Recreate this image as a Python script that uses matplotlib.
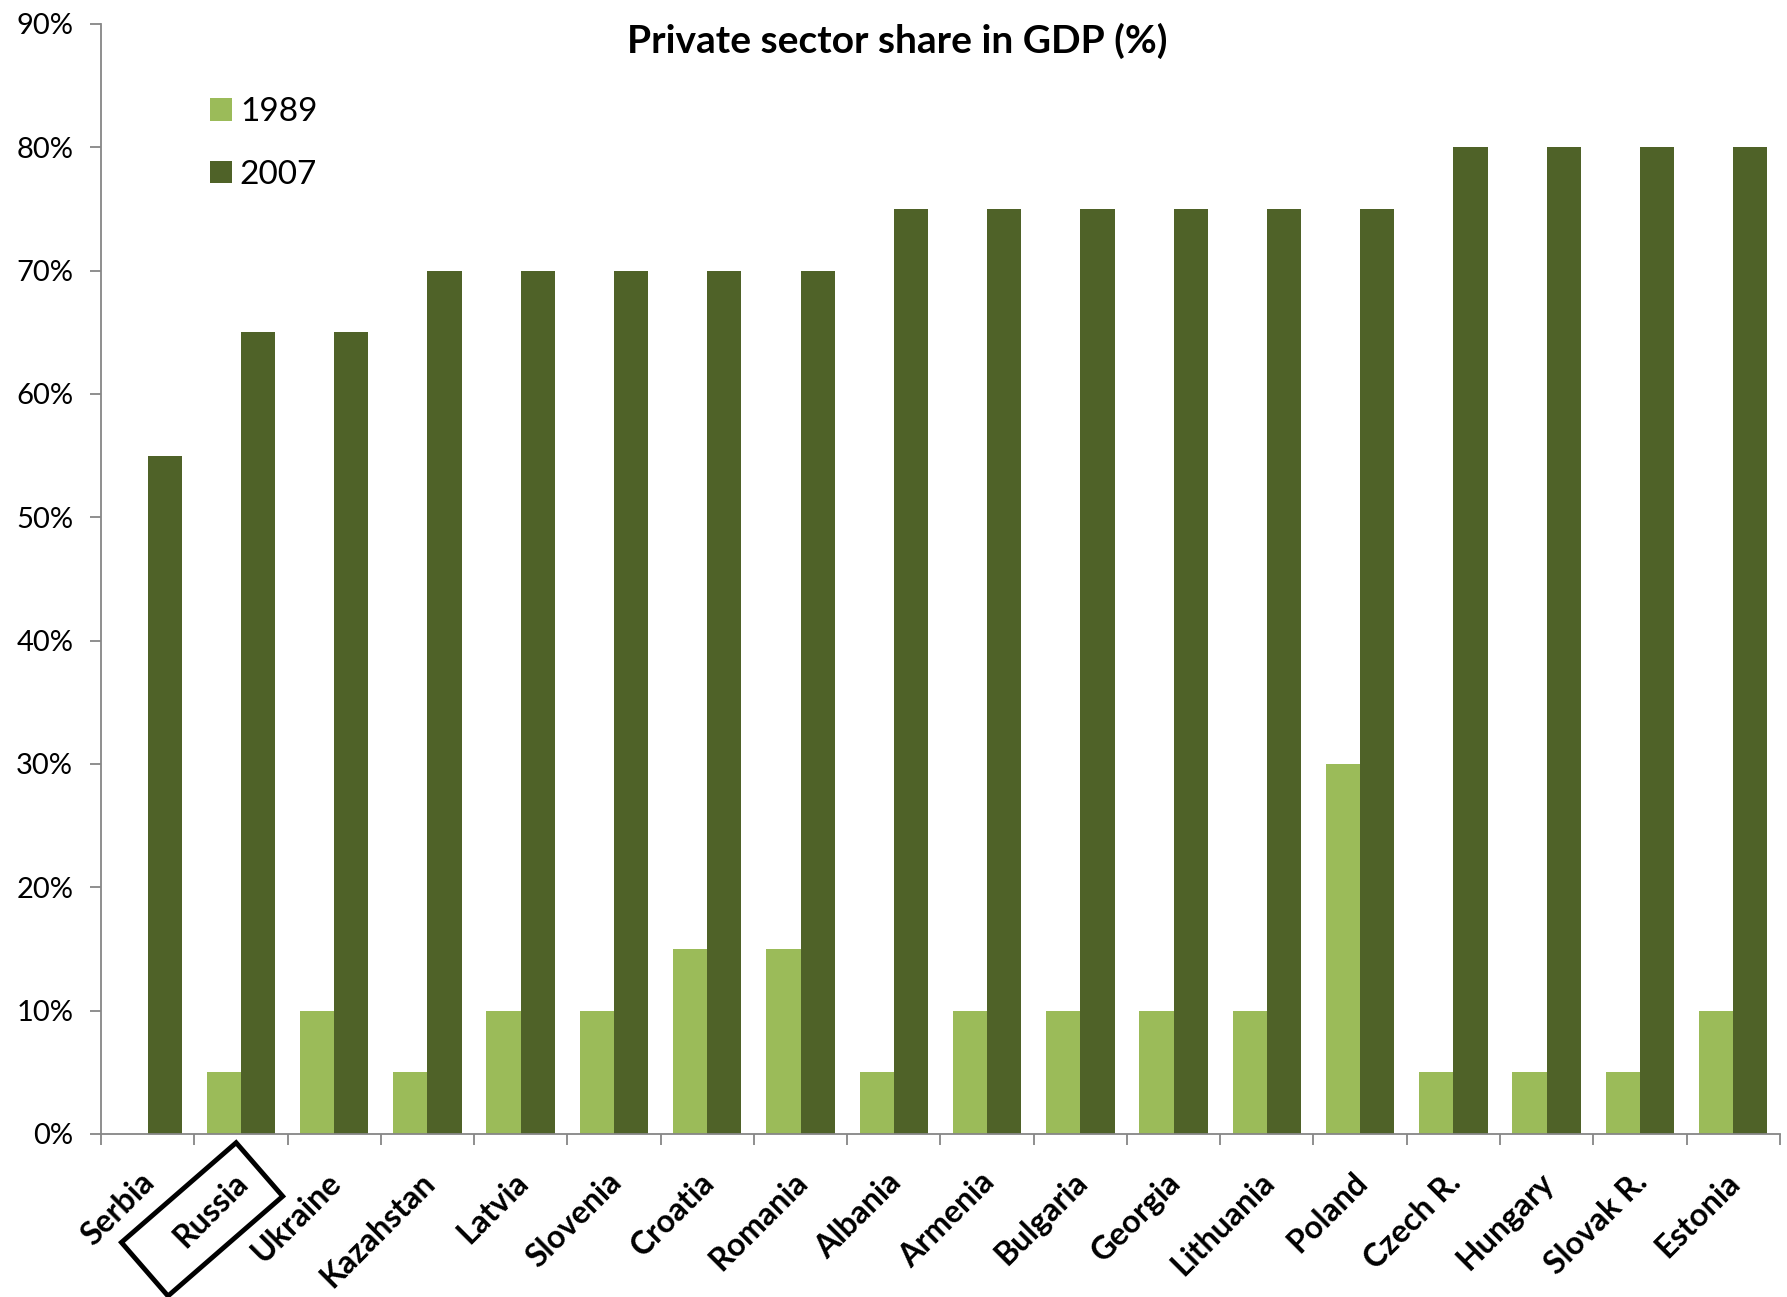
import numpy as np
import matplotlib.pyplot as plt
from matplotlib.patches import Rectangle
from matplotlib.transforms import IdentityTransform, ScaledTranslation
from matplotlib.ticker import FuncFormatter

plt.rcParams['font.family'] = ['Lato', 'DejaVu Sans']

# Private sector share in GDP, per country
countries = ['Serbia', 'Russia', 'Ukraine', 'Kazahstan', 'Latvia', 'Slovenia',
             'Croatia', 'Romania', 'Albania', 'Armenia', 'Bulgaria', 'Georgia',
             'Lithuania', 'Poland', 'Czech R.', 'Hungary', 'Slovak R.', 'Estonia']
share_1989 = [0, 5, 10, 5, 10, 10, 15, 15, 5, 10, 10, 10, 10, 30, 5, 5, 5, 10]
share_2007 = [55, 65, 65, 70, 70, 70, 70, 70, 75, 75, 75, 75, 75, 75, 80, 80, 80, 80]

light = '#9bbb59'
dark = '#4f6228'
grey = '#868686'

fig = plt.figure(figsize=(17.87, 12.97), dpi=100)
ax = fig.add_axes([0.0565, 0.1257, 0.9395, 0.8558])

x = np.arange(len(countries))
w = 0.367
ax.bar(x - w / 2, share_1989, w, color=light, label='1989')
ax.bar(x + w / 2, share_2007, w, color=dark, label='2007')

ax.set_xlim(-0.5, len(countries) - 0.5)
ax.set_ylim(0, 90)
ax.set_yticks(np.arange(0, 91, 10))
ax.yaxis.set_major_formatter(FuncFormatter(lambda v, p: f'{v:.0f}%'))

# category boundaries get the tick marks, labels sit at the centres
ax.set_xticks(np.arange(-0.5, len(countries), 1.0))
ax.set_xticklabels([])
ax.set_xticks(x, minor=True)
ax.set_xticklabels(countries, minor=True, rotation=45, ha='right', va='top',
                   rotation_mode='anchor', fontsize=23, fontweight='bold')
ax.tick_params(axis='x', which='minor', length=0, pad=24)
ax.tick_params(axis='x', which='major', length=8, color=grey, width=1.3)
ax.tick_params(axis='y', length=8, color=grey, width=1.3, labelsize=21, pad=12)

shift = ScaledTranslation(-8 / 100, 0, fig.dpi_scale_trans)
for lab in ax.get_xticklabels(minor=True):
    lab.set_transform(lab.get_transform() + shift)

for s in ['top', 'right']:
    ax.spines[s].set_visible(False)
for s in ['left', 'bottom']:
    ax.spines[s].set_color(grey)
    ax.spines[s].set_linewidth(1.3)

ax.text(0.4745, 0.985, 'Private sector share in GDP (%)', transform=ax.transAxes,
        ha='center', va='center', fontsize=28, fontweight='bold')

ax.legend(loc='upper left', bbox_to_anchor=(0.047, 0.961), frameon=False, fontsize=24,
          handlelength=0.65, handleheight=0.65, handletextpad=0.25, labelspacing=0.97)

# box drawn around the Russia label
fig.add_artist(Rectangle((168, 1), 152, 71, angle=41, fill=False, edgecolor='black',
                         linewidth=3.5, transform=IdentityTransform()))

fig.savefig('out.png', dpi=100)
